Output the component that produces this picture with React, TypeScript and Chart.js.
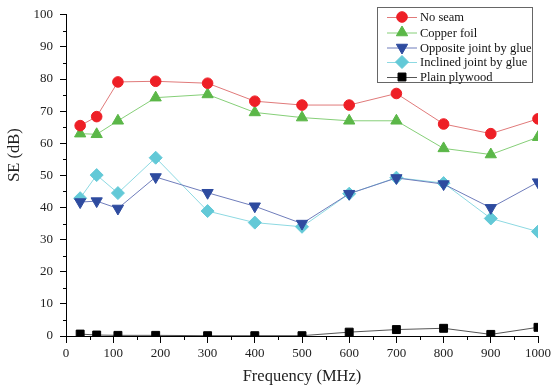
import React, { useEffect, useRef } from "react";
import { Chart, registerables } from "chart.js";
import { drawPoint } from "chart.js/helpers";

Chart.register(...registerables);

const freqs = [30, 65, 110, 190, 300, 400, 500, 600, 700, 800, 900, 1000];
const noSeam = [65.5, 68.3, 79.1, 79.3, 78.7, 73.1, 71.9, 71.9, 75.5, 66.0, 63.0, 67.6];
const copperFoil = [63.0, 62.8, 67.0, 74.2, 75.2, 69.6, 68.0, 67.0, 67.0, 58.4, 56.5, 61.9];
const oppositeJoint = [41.7, 42.0, 39.7, 49.5, 44.6, 40.4, 35.0, 44.3, 49.2, 47.3, 39.9, 47.9];
const inclinedJoint = [42.9, 50.1, 44.5, 55.5, 38.9, 35.3, 34.0, 44.3, 49.3, 47.6, 36.6, 32.5];
const plainPlywood = [0.6, 0.3, 0.2, 0.2, 0.1, 0.1, 0.1, 1.2, 2.0, 2.4, 0.5, 2.7];

const seriesNames = ["No seam", "Copper foil", "Opposite joint by glue", "Inclined joint by glue", "Plain plywood"];
const xTitle = "Frequency (MHz)";
const yTitle = "SE (dB)";

const FONT = "'Liberation Serif', 'Times New Roman', serif";

type Style = { line: string; marker: string; pointStyle: string; radius: number; rotation: number };
const styles: Style[] = [
  { line: "#e07a7a", marker: "#ee1f26", pointStyle: "circle", radius: 5.3, rotation: 0 },
  { line: "#86cf78", marker: "#5bb748", pointStyle: "triangle", radius: 6.5, rotation: 0 },
  { line: "#6f7dbb", marker: "#2e4b9f", pointStyle: "triangle", radius: 6.5, rotation: 180 },
  { line: "#8dd9e2", marker: "#63c9d7", pointStyle: "rectRot", radius: 6.5, rotation: 0 },
  { line: "#555555", marker: "#000000", pointStyle: "rect", radius: 5.6, rotation: 0 },
];

const allSeries = [noSeam, copperFoil, oppositeJoint, inclinedJoint, plainPlywood];

const overlayPlugin = {
  id: "overlay",
  afterDraw(chart: any) {
    const ctx = chart.ctx as CanvasRenderingContext2D;
    const xs = chart.scales.x;
    const ys = chart.scales.y;
    ctx.save();
    // minor ticks
    ctx.strokeStyle = "#000";
    ctx.lineWidth = 1;
    ctx.beginPath();
    for (let v = 50; v < 1000; v += 100) {
      const px = Math.round(xs.getPixelForValue(v)) + 0.5;
      ctx.moveTo(px, ys.bottom);
      ctx.lineTo(px, ys.bottom + 4);
    }
    for (let v = 5; v < 100; v += 10) {
      const py = Math.round(ys.getPixelForValue(v)) + 0.5;
      ctx.moveTo(xs.left, py);
      ctx.lineTo(xs.left - 3, py);
    }
    ctx.stroke();

    // axis titles
    ctx.fillStyle = "#222";
    ctx.font = `16.5px ${FONT}`;
    ctx.textAlign = "center";
    ctx.textBaseline = "middle";
    ctx.fillText(xTitle, (xs.left + xs.right) / 2, 377);
    ctx.save();
    ctx.translate(15, 155);
    ctx.rotate(-Math.PI / 2);
    ctx.fillText(yTitle, 0, 0);
    ctx.restore();

    // legend
    const lx = 377.5, ly = 7.5, lw = 155, lh = 75;
    ctx.fillStyle = "#fff";
    ctx.fillRect(lx, ly, lw, lh);
    ctx.strokeStyle = "#666";
    ctx.lineWidth = 1;
    ctx.strokeRect(lx, ly, lw, lh);
    const rowsY = [17, 32.5, 47.5, 62, 77];
    ctx.font = `12.5px ${FONT}`;
    ctx.textAlign = "left";
    ctx.textBaseline = "middle";
    seriesNames.forEach((name, i) => {
      const s = styles[i];
      const y = rowsY[i];
      ctx.strokeStyle = s.line;
      ctx.lineWidth = 1;
      ctx.beginPath();
      ctx.moveTo(387, y + 0.5);
      ctx.lineTo(417, y + 0.5);
      ctx.stroke();
      ctx.fillStyle = s.marker;
      ctx.strokeStyle = s.marker;
      drawPoint(ctx, { pointStyle: s.pointStyle as any, radius: s.radius, rotation: s.rotation, borderWidth: 1 } as any, 402, y);
      ctx.fillStyle = "#111";
      ctx.fillText(name, 420, y + 1);
    });
    ctx.restore();
  },
};

export default function App() {
  const ref = useRef<HTMLCanvasElement | null>(null);
  useEffect(() => {
    if (!ref.current) return;
    const chart = new Chart(ref.current, {
      type: "line",
      data: {
        datasets: allSeries.map((vals, i) => ({
          label: seriesNames[i],
          data: freqs.map((f, j) => ({ x: f, y: vals[j] })),
          borderColor: styles[i].line,
          borderWidth: 1,
          pointBackgroundColor: styles[i].marker,
          pointBorderColor: styles[i].marker,
          pointBorderWidth: 1,
          pointStyle: styles[i].pointStyle as any,
          pointRotation: styles[i].rotation,
          pointRadius: styles[i].radius,
          tension: 0,
          clip: 0,
        })),
      },
      options: {
        animation: false,
        responsive: false,
        layout: { padding: { top: 10, right: 15, left: 0, bottom: 0 } },
        plugins: { legend: { display: false }, tooltip: { enabled: false }, title: { display: false } },
        scales: {
          x: {
            type: "linear",
            min: 0,
            max: 1000,
            ticks: {
              stepSize: 100,
              color: "#222",
              font: { family: FONT, size: 13 },
              padding: 3,
              maxRotation: 0,
              callback: (v: any) => String(v),
            },
            grid: { drawOnChartArea: false, drawTicks: true, tickLength: 7, color: "#000" },
            border: { color: "#000", width: 1 },
            afterFit: (s: any) => { s.height = 53; },
          },
          y: {
            min: 0,
            max: 100,
            ticks: { stepSize: 10, color: "#222", font: { family: FONT, size: 13 }, padding: 7 },
            grid: { drawOnChartArea: false, drawTicks: true, tickLength: 6, color: "#000" },
            border: { color: "#000", width: 1 },
            afterFit: (s: any) => { s.width = 66; },
          },
        },
      },
      plugins: [overlayPlugin],
    });
    return () => chart.destroy();
  }, []);
  return (
    <div style={{ position: "absolute", left: 0, top: 0, width: 554, height: 389, background: "#fff" }}>
      <canvas ref={ref} width={554} height={389} style={{ display: "block" }} />
    </div>
  );
}
